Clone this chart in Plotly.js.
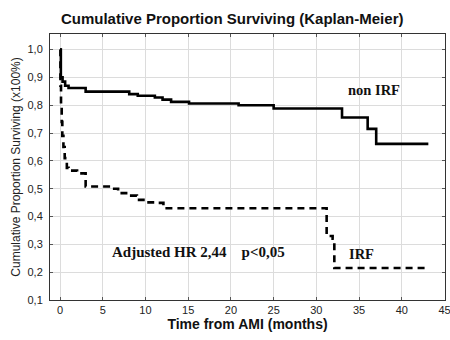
<!DOCTYPE html>
<html><head><meta charset="utf-8">
<script src="https://cdn.plot.ly/plotly-3.0.1.min.js"></script>
<style>html,body{margin:0;padding:0;background:#fff}#chart{width:450px;height:340px}</style>
</head><body><div id="chart"></div>
<script>
// Kaplan-Meier step data (months, proportion surviving)
const nonIrfTime = [0, 0.1, 0.3, 0.6, 1.0, 3.0, 8.1, 9.1, 11.1, 12.0, 13.0, 15.1, 20.9, 25.0, 33.0, 36.0, 37.0, 43.1];
const nonIrfSurv = [1.0, 0.90, 0.885, 0.87, 0.862, 0.849, 0.84, 0.834, 0.828, 0.82, 0.812, 0.806, 0.80, 0.788, 0.756, 0.715, 0.661, 0.661];
const irfTime = [0, 0.05, 0.12, 0.2, 0.27, 0.4, 0.55, 0.8, 1.0, 2.0, 3.0, 6.0, 6.8, 8.0, 9.0, 10.1, 11.5, 12.1, 31.2, 31.9, 32.1, 43.1];
const irfSurv = [1.0, 0.87, 0.80, 0.74, 0.69, 0.65, 0.61, 0.575, 0.565, 0.555, 0.508, 0.50, 0.484, 0.475, 0.46, 0.451, 0.449, 0.43, 0.33, 0.32, 0.215, 0.215];
const xTicks = [0, 5, 10, 15, 20, 25, 30, 35, 40, 45];
const yTicks = [0.1, 0.2, 0.3, 0.4, 0.5, 0.6, 0.7, 0.8, 0.9, 1.0];
const labels = {nonIrf: "non IRF", irf: "IRF", hr: "Adjusted HR 2,44&nbsp;&nbsp;&nbsp;&nbsp;p<0,05"};

const traces = [
  {x: nonIrfTime, y: nonIrfSurv, mode: 'lines', line: {shape: 'hv', color: '#000', width: 2.6}, showlegend: false, hoverinfo: 'skip'},
  {x: irfTime, y: irfSurv, mode: 'lines', line: {shape: 'hv', color: '#000', width: 2.6, dash: '7px,5px'}, showlegend: false, hoverinfo: 'skip'}
];
const axisBase = {showline: true, linecolor: '#333', linewidth: 1, mirror: 'ticks', ticks: 'inside', ticklen: 3, tickcolor: '#555',
  showgrid: true, gridcolor: '#dcdcdc', gridwidth: 1, zeroline: false, ticklabeloverflow: 'allow',
  tickfont: {family: 'Liberation Sans, Arial, sans-serif', size: 11, color: '#222'}};
const serif = 'Liberation Serif, Times New Roman, serif';
const layout = {
  width: 450, height: 340, paper_bgcolor: '#fff', plot_bgcolor: '#fff',
  margin: {l: 50, r: 5, t: 34, b: 40},
  separators: ', ',
  title: {text: '<b>Cumulative Proportion Surviving (Kaplan-Meier)</b>', x: 0.516, xref: 'container', xanchor: 'center', y: 0.944, yref: 'container', yanchor: 'middle',
    font: {family: 'Liberation Sans, Arial, sans-serif', size: 15, color: '#111'}},
  xaxis: Object.assign({}, axisBase, {range: [-1.17, 45.05], tickvals: xTicks, tickformat: 'd',
    title: {text: '<b>Time from AMI (months)</b>', standoff: 2, font: {family: 'Liberation Sans, Arial, sans-serif', size: 14, color: '#111'}}}),
  yaxis: Object.assign({}, axisBase, {range: [0.1, 1.056], tickvals: yTicks, tickformat: '.1f', ticklabelstandoff: 4,
    title: {text: 'Cumulative Proportion Surviving (x100%)', standoff: 4, font: {family: 'Liberation Sans, Arial, sans-serif', size: 12, color: '#222'}}}),
  annotations: [
    {x: 33.5, y: 0.853, text: '<b>' + labels.nonIrf + '</b>', showarrow: false, xanchor: 'left', yanchor: 'middle', font: {family: serif, size: 14.5, color: '#111'}},
    {x: 33.6, y: 0.266, text: '<b>' + labels.irf + '</b>', showarrow: false, xanchor: 'left', yanchor: 'middle', font: {family: serif, size: 14.5, color: '#111'}},
    {x: 5.84, y: 0.273, text: '<b>' + labels.hr + '</b>', showarrow: false, xanchor: 'left', yanchor: 'middle', font: {family: serif, size: 15, color: '#111'}}
  ]
};
Plotly.newPlot('chart', traces, layout, {staticPlot: true, displayModeBar: false});
</script></body></html>
